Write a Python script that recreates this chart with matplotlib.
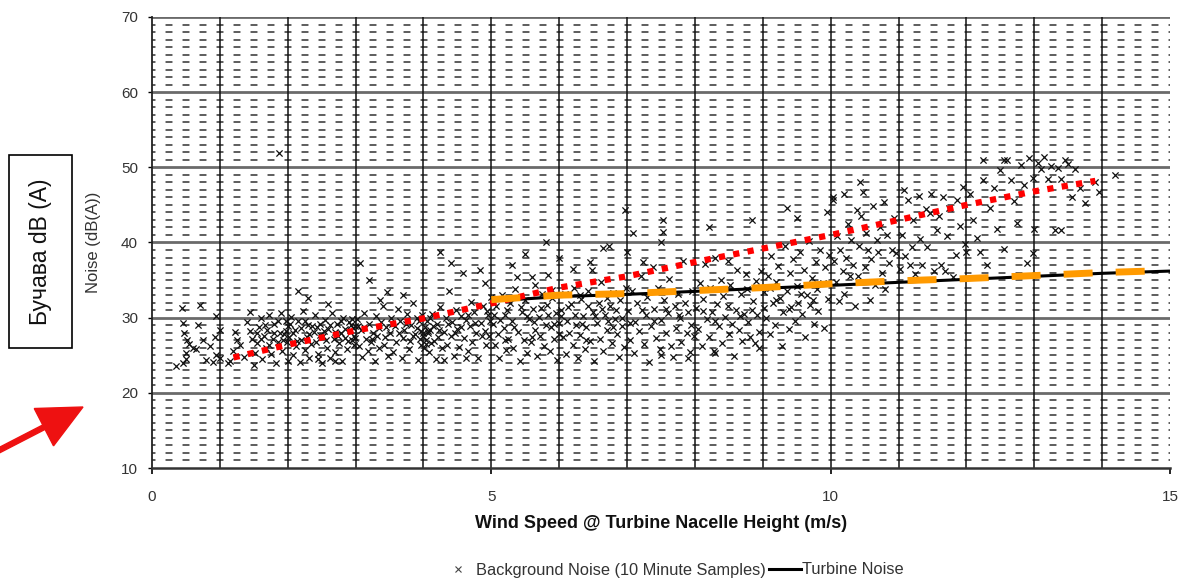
import numpy as np
import matplotlib
matplotlib.use("Agg")
import matplotlib.pyplot as plt
from matplotlib.patches import Rectangle, FancyArrow
from matplotlib.transforms import IdentityTransform
from matplotlib.lines import Line2D

plt.rcParams['font.family'] = ['Liberation Sans', 'DejaVu Sans']
plt.rcParams['lines.scale_dashes'] = False

# background noise samples (wind speed m/s, noise dB(A))
bg_zone_0 = [(0.35, 23.6), (0.44, 31.3), (0.45, 24.0), (0.46, 29.3), (0.47, 28.0), (0.5, 24.5),
             (0.5, 25.3), (0.55, 26.5), (0.52, 27.0), (0.6, 26.0), (0.65, 25.8), (0.68, 29.0),
             (0.75, 27.0), (0.8, 24.4), (0.9, 24.1), (0.93, 27.4), (0.95, 25.0), (0.85, 26.2),
             (1.0, 28.3), (0.95, 30.2), (0.7, 31.7), (1.0, 24.6), (1.12, 24.0)]
bg_zone_1 = [(1.15, 24.2), (1.2, 25.6), (1.22, 28.1), (1.25, 27.0), (1.3, 26.3), (1.35, 24.8),
             (1.4, 29.4), (1.44, 30.8), (1.45, 28.2), (1.48, 27.1), (1.5, 23.7), (1.52, 25.3),
             (1.55, 26.6), (1.58, 28.8), (1.6, 29.9), (1.62, 24.5), (1.65, 27.6), (1.68, 26.0),
             (1.7, 28.4), (1.72, 30.3), (1.75, 25.1), (1.78, 27.2), (1.8, 29.1), (1.82, 24.0),
             (1.85, 26.7), (1.88, 28.0), (1.9, 30.6), (1.92, 25.5), (1.95, 27.8), (1.97, 29.5),
             (1.99, 26.8), (2.0, 28.9), (2.0, 24.3), (1.87, 51.9)]
bg_zone_2 = [(2.02, 27.4), (2.05, 30.1), (2.08, 25.0), (2.1, 28.4), (2.12, 26.2), (2.15, 29.6),
             (2.18, 24.1), (2.2, 27.0), (2.22, 30.9), (2.25, 25.7), (2.28, 27.4), (2.3, 29.0),
             (2.32, 24.6), (2.35, 26.5), (2.38, 28.1), (2.4, 30.3), (2.43, 28.8), (2.45, 25.2),
             (2.48, 27.7), (2.5, 24.0), (2.52, 27.5), (2.55, 29.7), (2.58, 26.0), (2.6, 28.5),
             (2.62, 24.7), (2.65, 30.6), (2.68, 27.1), (2.7, 25.4), (2.72, 29.2), (2.75, 26.6),
             (2.78, 28.0), (2.8, 24.2), (2.82, 30.0), (2.85, 27.3), (2.88, 25.8), (2.9, 29.4),
             (2.92, 28.3), (2.94, 27.0), (2.95, 29.8), (2.96, 28.6), (2.97, 27.6), (2.98, 26.4),
             (2.6, 31.8), (2.3, 32.6), (2.15, 33.5)]
bg_zone_3 = [(3.02, 29.8), (3.05, 26.2), (3.06, 37.3), (3.08, 28.4), (3.1, 24.8), (3.12, 30.6),
             (3.15, 27.2), (3.18, 25.6), (3.2, 35.0), (3.2, 29.1), (3.22, 26.8), (3.25, 28.0),
             (3.28, 24.3), (3.3, 30.2), (3.32, 27.5), (3.35, 25.9), (3.38, 29.4), (3.4, 31.5),
             (3.42, 26.3), (3.45, 28.7), (3.46, 33.4), (3.48, 24.9), (3.5, 27.9), (3.52, 30.0),
             (3.55, 25.4), (3.58, 28.9), (3.6, 26.7), (3.62, 31.2), (3.65, 29.6), (3.68, 24.6),
             (3.7, 27.3), (3.72, 28.4), (3.75, 30.5), (3.78, 25.8), (3.8, 26.9), (3.82, 29.0),
             (3.85, 31.9), (3.87, 27.8), (3.9, 28.6), (3.92, 24.4), (3.94, 29.5), (3.95, 27.1),
             (3.96, 28.2), (3.97, 26.4), (3.98, 30.3), (3.7, 33.0), (3.36, 32.4)]
bg_zone_4 = [(4.0, 27.5), (4.02, 28.8), (4.03, 26.5), (4.05, 29.6), (4.07, 27.9), (4.08, 25.4),
             (4.1, 28.4), (4.12, 30.5), (4.15, 26.9), (4.18, 24.5), (4.2, 29.2), (4.22, 27.4),
             (4.24, 38.7), (4.25, 31.4), (4.28, 25.9), (4.3, 28.1), (4.33, 30.0), (4.35, 26.4),
             (4.38, 33.6), (4.4, 37.3), (4.4, 27.6), (4.42, 29.4), (4.45, 24.9), (4.48, 31.0),
             (4.5, 28.5), (4.52, 26.1), (4.55, 30.2), (4.58, 36.0), (4.6, 27.3), (4.62, 29.7),
             (4.65, 25.5), (4.68, 28.9), (4.7, 32.1), (4.72, 26.8), (4.75, 30.8), (4.78, 27.9),
             (4.8, 24.7), (4.83, 36.3), (4.85, 29.3), (4.87, 31.6), (4.9, 34.6), (4.9, 28.2),
             (4.92, 26.3), (4.95, 30.4), (4.97, 27.6), (4.99, 32.8)]
bg_zone_5 = [(5.02, 29.1), (5.05, 26.4), (5.07, 31.5), (5.1, 27.8), (5.12, 24.6), (5.15, 33.0),
             (5.18, 28.6), (5.2, 30.3), (5.22, 25.7), (5.25, 27.2), (5.28, 31.9), (5.3, 29.5),
             (5.32, 26.0), (5.35, 33.8), (5.38, 35.4), (5.4, 28.1), (5.42, 24.2), (5.45, 30.7),
             (5.48, 27.0), (5.5, 32.4), (5.52, 25.3), (5.55, 29.8), (5.58, 26.7), (5.6, 35.4),
             (5.62, 31.2), (5.65, 28.3), (5.65, 34.4), (5.68, 24.9), (5.7, 30.1), (5.72, 27.5),
             (5.75, 33.1), (5.78, 26.2), (5.8, 29.0), (5.82, 31.7), (5.84, 35.7), (5.86, 25.6),
             (5.88, 28.7), (5.9, 32.6), (5.92, 27.1), (5.95, 30.6), (5.97, 24.4), (5.99, 29.3),
             (5.5, 38.5), (5.8, 40.0), (5.3, 37.0)]
bg_zone_6 = [(6.02, 31.0), (6.05, 27.4), (6.08, 33.2), (6.1, 25.1), (6.12, 29.6), (6.15, 28.0),
             (6.18, 31.8), (6.2, 26.3), (6.22, 34.0), (6.25, 29.0), (6.28, 24.6), (6.3, 27.7),
             (6.32, 32.5), (6.35, 30.2), (6.38, 25.8), (6.4, 28.8), (6.42, 33.6), (6.45, 37.4),
             (6.45, 26.9), (6.48, 36.3), (6.5, 30.8), (6.52, 24.2), (6.55, 29.3), (6.58, 32.0),
             (6.6, 27.2), (6.62, 34.8), (6.65, 39.3), (6.65, 25.5), (6.68, 30.4), (6.7, 28.3),
             (6.73, 39.5), (6.75, 31.5), (6.78, 26.6), (6.8, 33.3), (6.82, 29.8), (6.85, 27.8),
             (6.88, 24.8), (6.9, 32.3), (6.92, 30.0), (6.95, 26.1), (6.97, 44.3), (6.98, 33.9),
             (6.2, 36.5), (6.0, 38.0)]
bg_zone_7 = [(7.0, 38.8), (7.02, 30.9), (7.05, 27.0), (7.08, 33.5), (7.09, 41.2), (7.1, 25.3),
             (7.12, 29.4), (7.15, 31.9), (7.18, 28.2), (7.2, 35.6), (7.23, 37.4), (7.25, 26.5),
             (7.28, 30.3), (7.3, 32.8), (7.32, 24.1), (7.35, 28.9), (7.38, 36.8), (7.4, 31.2),
             (7.42, 27.3), (7.45, 33.9), (7.48, 25.8), (7.5, 40.0), (7.5, 29.7), (7.53, 41.4),
             (7.53, 43.0), (7.55, 32.4), (7.58, 27.9), (7.6, 30.6), (7.62, 35.2), (7.65, 26.2),
             (7.68, 24.8), (7.7, 31.5), (7.72, 28.6), (7.75, 33.1), (7.78, 29.9), (7.8, 26.8),
             (7.82, 37.6), (7.85, 32.0), (7.88, 28.0), (7.9, 30.8), (7.92, 25.4), (7.95, 33.6),
             (7.98, 27.5)]
bg_zone_8 = [(8.02, 31.3), (8.05, 28.5), (8.08, 34.6), (8.1, 26.2), (8.12, 32.5), (8.15, 37.2),
             (8.18, 29.8), (8.2, 42.0), (8.2, 27.4), (8.22, 33.9), (8.25, 30.7), (8.28, 25.5),
             (8.3, 38.0), (8.32, 31.8), (8.35, 28.9), (8.38, 35.0), (8.4, 26.6), (8.42, 32.9),
             (8.45, 30.1), (8.48, 37.5), (8.5, 27.8), (8.52, 34.3), (8.55, 29.2), (8.58, 24.9),
             (8.6, 31.0), (8.62, 36.4), (8.65, 28.3), (8.68, 33.2), (8.7, 26.9), (8.72, 30.5),
             (8.75, 35.8), (8.78, 29.4), (8.81, 27.4), (8.84, 43.0), (8.85, 32.2), (8.88, 26.6),
             (8.9, 34.9), (8.92, 30.3), (8.95, 28.1), (8.98, 36.2)]
bg_zone_9 = [(9.02, 33.4), (9.05, 30.0), (9.08, 35.6), (9.1, 27.8), (9.12, 38.2), (9.15, 31.9),
             (9.18, 29.0), (9.2, 34.7), (9.22, 36.9), (9.25, 32.6), (9.28, 26.2), (9.3, 30.8),
             (9.32, 39.5), (9.35, 33.5), (9.36, 44.6), (9.38, 28.5), (9.4, 35.9), (9.42, 31.4),
             (9.45, 37.8), (9.48, 29.6), (9.5, 43.3), (9.5, 34.2), (9.52, 32.0), (9.55, 38.8),
             (9.58, 30.5), (9.6, 36.4), (9.62, 27.4), (9.65, 33.0), (9.68, 40.2), (9.7, 31.7),
             (9.72, 35.3), (9.75, 29.1), (9.78, 37.4), (9.8, 33.8), (9.82, 30.9), (9.85, 39.0),
             (9.88, 34.6), (9.9, 28.6), (9.92, 36.8), (9.95, 44.0), (9.96, 32.5), (9.98, 38.3)]
bg_zone_10 = [(10.03, 45.6), (10.03, 46.0), (10.05, 37.5), (10.08, 34.8), (10.1, 40.8), (10.12, 32.2),
              (10.14, 39.0), (10.18, 36.2), (10.2, 46.5), (10.2, 33.2), (10.22, 38.0), (10.25, 42.5),
              (10.28, 35.6), (10.3, 40.3), (10.33, 37.0), (10.36, 31.5), (10.39, 44.3), (10.4, 35.5),
              (10.42, 39.6), (10.43, 48.0), (10.45, 43.5), (10.47, 46.7), (10.5, 36.8), (10.52, 41.2),
              (10.55, 39.0), (10.58, 32.4), (10.6, 37.8), (10.62, 44.8), (10.65, 34.4), (10.68, 40.3),
              (10.7, 38.8), (10.73, 42.0), (10.75, 36.0), (10.78, 45.4), (10.8, 33.8), (10.83, 41.0),
              (10.86, 37.3), (10.9, 39.0), (10.93, 43.2), (10.97, 38.6)]
bg_zone_11 = [(11.02, 36.5), (11.05, 41.0), (11.08, 47.0), (11.1, 38.2), (11.14, 45.6), (11.17, 37.0),
              (11.2, 39.4), (11.22, 43.0), (11.25, 35.8), (11.3, 46.2), (11.32, 40.5), (11.35, 37.0),
              (11.4, 44.4), (11.42, 39.4), (11.46, 43.9), (11.48, 46.5), (11.52, 36.2), (11.56, 41.7),
              (11.6, 43.5), (11.62, 37.0), (11.65, 46.0), (11.68, 36.2), (11.72, 40.8), (11.75, 44.6),
              (11.8, 35.4), (11.85, 38.4), (11.86, 45.6), (11.9, 42.2), (11.95, 47.4), (11.98, 39.8)]
bg_zone_12 = [(12.0, 38.8), (12.06, 46.4), (12.1, 43.0), (12.15, 40.6), (12.2, 38.7), (12.25, 51.0),
              (12.25, 48.3), (12.3, 37.0), (12.35, 44.6), (12.4, 47.2), (12.45, 41.8), (12.5, 49.6),
              (12.55, 51.0), (12.55, 39.2), (12.6, 51.0), (12.65, 48.3), (12.7, 45.5), (12.75, 42.6),
              (12.8, 50.3), (12.85, 47.6), (12.9, 37.3), (12.92, 51.2), (12.98, 48.6), (12.98, 38.6),
              (13.0, 41.8)]
bg_zone_13 = [(13.05, 50.6), (13.1, 49.8), (13.15, 51.4), (13.2, 48.4), (13.25, 50.2), (13.3, 41.7),
              (13.35, 49.9), (13.4, 48.4), (13.4, 41.7), (13.45, 51.0), (13.5, 50.5), (13.55, 46.0),
              (13.6, 49.8), (13.67, 47.2), (13.75, 45.3), (13.9, 48.0), (13.96, 46.7), (14.19, 49.0)]
# extra samples where the cloud is darkest
bg_dense_a = [(1.55, 28.0), (1.6, 27.2), (1.66, 29.0), (1.72, 26.4), (1.8, 27.9), (1.86, 29.6),
              (1.93, 27.0), (1.98, 28.2), (2.03, 29.2), (2.08, 27.9), (2.14, 26.9), (2.2, 28.6),
              (2.26, 29.5), (2.31, 27.8), (2.36, 28.9), (2.42, 26.8), (2.47, 29.1), (2.53, 28.2),
              (2.57, 27.0), (2.63, 29.0), (2.69, 28.1), (2.74, 27.5), (2.79, 29.5), (2.84, 28.5),
              (2.89, 26.9), (2.93, 29.0), (2.99, 28.9), (2.99, 27.3), (2.45, 24.5), (2.7, 24.3)]
bg_dense_b = [(3.03, 28.9), (3.13, 28.8), (3.24, 27.2), (3.34, 28.6), (3.44, 27.4), (3.54, 29.2),
              (3.64, 27.9), (3.74, 29.1), (3.84, 27.6), (3.9, 29.9), (3.99, 28.0), (4.01, 26.0),
              (4.04, 27.0), (4.06, 28.2), (4.09, 29.9), (4.11, 26.6), (4.14, 28.9), (4.23, 28.4),
              (4.36, 29.1), (4.46, 27.9), (4.56, 28.8), (4.66, 30.3), (4.76, 29.3), (4.86, 27.6),
              (4.93, 30.9), (4.98, 29.5), (4.62, 24.6), (4.3, 24.4)]
bg_dense_c = [(5.04, 30.4), (5.13, 29.7), (5.23, 31.0), (5.33, 28.8), (5.44, 31.4), (5.53, 30.2),
              (5.63, 29.4), (5.73, 31.3), (5.83, 30.4), (5.93, 29.2), (6.03, 30.2), (6.13, 31.4),
              (6.23, 30.4), (6.33, 29.2), (6.43, 31.6), (6.53, 30.2), (6.63, 31.1), (6.72, 29.6),
              (6.83, 31.0), (6.93, 28.9), (5.2, 27.0), (5.6, 27.4), (6.0, 27.8), (6.4, 27.0),
              (6.8, 28.7), (5.9, 33.7), (6.3, 33.0), (6.7, 32.6)]
bg_dense_d = [(7.04, 29.3), (7.22, 31.0), (7.4, 29.5), (7.58, 31.2), (7.76, 30.3), (7.94, 29.0),
              (8.12, 30.9), (8.3, 29.6), (8.48, 31.6), (8.66, 30.2), (8.84, 31.0), (9.02, 31.3),
              (9.2, 32.3), (9.38, 31.1), (9.56, 33.2), (9.74, 32.3), (9.1, 34.0), (8.76, 33.8),
              (7.5, 25.0), (7.9, 24.6), (8.3, 25.3), (8.95, 25.9)]

# curves
red_x = [1.2, 2, 3, 4, 5, 6, 7, 8, 9, 10, 11, 12, 13, 13.9]
red_y = [24.7, 26.4, 28.3, 29.9, 31.9, 34.0, 35.5, 37.4, 39.2, 41.0, 43.0, 45.0, 46.8, 48.2]
orange_x = [5, 6, 7, 8, 9, 10, 11, 12, 13, 14, 14.7]
orange_y = [32.4, 33.0, 33.2, 33.6, 34.0, 34.5, 34.9, 35.2, 35.6, 36.0, 36.2]
turbine_x = [5, 6, 7, 8, 9, 10, 11, 12, 13, 14, 15]
turbine_y = [32.2, 32.8, 33.1, 33.5, 33.9, 34.3, 34.7, 35.1, 35.5, 35.9, 36.2]

x_ticks = [0, 5, 10, 15]
y_ticks = [10, 20, 30, 40, 50, 60, 70]

zones = [bg_zone_0, bg_zone_1, bg_zone_2, bg_zone_3, bg_zone_4, bg_zone_5, bg_zone_6,
         bg_zone_7, bg_zone_8, bg_zone_9, bg_zone_10, bg_zone_11, bg_zone_12, bg_zone_13,
         bg_dense_a, bg_dense_b, bg_dense_c, bg_dense_d]
bg = np.array([p for z in zones for p in z])

W, H = 1183, 583
fig = plt.figure(figsize=(W / 100, H / 100), dpi=100)
ax = fig.add_axes([152 / W, 1 - 468 / H, (1170 - 152) / W, (468 - 17) / H])
ax.set_xlim(0, 15)
ax.set_ylim(10, 70)

# grid: dashed minor rows every 1 dB, solid grey rows every 10, columns every 1 m/s
for yv in range(11, 70):
    if yv % 10:
        ax.plot([0, 15], [yv, yv], color='#3a3a3a', lw=1.15,
                linestyle=(2.5, (5.0, 7.24)), zorder=1)
for yv in y_ticks[1:]:
    ax.plot([0, 15], [yv, yv], color='#6a6a6a', lw=2.0, zorder=1.2)
for xv in range(1, 15):
    ax.plot([xv, xv], [10, 70], color='#111111', lw=1.1, zorder=1.3)

ax.scatter(bg[:, 0], bg[:, 1], marker='x', s=20, linewidths=0.9, color='#111111', zorder=2)
ax.plot(turbine_x, turbine_y, color='black', lw=2.2, zorder=3, solid_capstyle='butt')
ax.plot(red_x, red_y, color='#ff0000', lw=4.5, linestyle=(0, (4.5, 6.0)),
        dash_capstyle='butt', zorder=4)
ax.plot(orange_x, orange_y, color='#ff9a00', lw=5.0, linestyle=(0, (20.9, 16.6)),
        dash_capstyle='butt', zorder=5)

for s in ['top', 'right']:
    ax.spines[s].set_visible(False)
ax.spines['left'].set_color('#222222')
ax.spines['left'].set_linewidth(1.3)
ax.spines['bottom'].set_color('#333333')
ax.spines['bottom'].set_linewidth(1.8)

ax.set_xticks(x_ticks)
ax.set_yticks(y_ticks)
ax.tick_params(axis='x', length=4, width=1.2, pad=12, labelsize=11, labelcolor='#333333')
ax.tick_params(axis='y', length=3, width=1.0, pad=7, labelsize=11, labelcolor='#333333')

ax.set_xlabel('Wind Speed @ Turbine Nacelle Height (m/s)', fontsize=13, fontweight='bold',
              color='#111111')
ax.xaxis.set_label_coords(0.5, -(515 - 468) / 451)
ax.set_ylabel('Noise (dB(A))', fontsize=12, color='#333333')
ax.yaxis.set_label_coords(-(152 - 101) / 1018, 0.5)

# legend under the axis title
h_bg = Line2D([], [], marker='x', linestyle='none', color='#444444', markersize=4, mew=0.8)
h_tb = Line2D([], [], color='black', lw=2.2)
fig.legend([h_bg, h_tb], ['Background Noise (10 Minute Samples)', 'Turbine Noise'],
           loc='center', bbox_to_anchor=(673 / W, 1 - 570 / H), ncol=2, frameon=False,
           fontsize=11.8, handlelength=2.0, handletextpad=0.05, columnspacing=0.2,
           labelcolor='#333333')

# annotation box and arrow on the left
fig.add_artist(Rectangle((9 / W, 1 - 348 / H), 63 / W, 193 / H, transform=fig.transFigure,
                         fill=False, edgecolor='black', lw=1.2))
fig.text(41 / W, 1 - 252 / H, 'Бучава dB (A)', rotation=90, ha='center', va='center',
         fontsize=16.5, color='#111111')
fig.add_artist(FancyArrow(-10, H - 455, 93, 48, width=5, head_width=42, head_length=44,
                          length_includes_head=True, color='#ee1111', transform=IdentityTransform()))

fig.savefig('out.png', dpi=100)
